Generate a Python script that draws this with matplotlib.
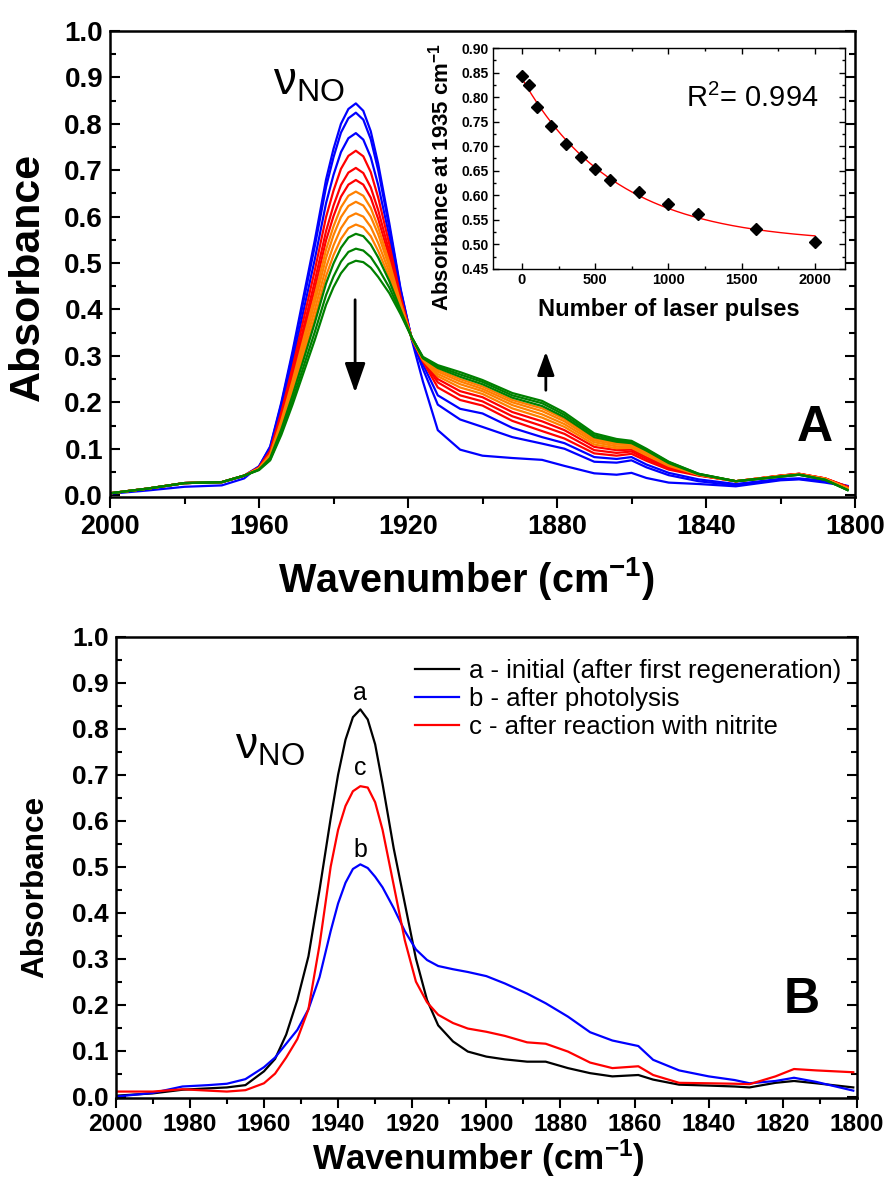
import numpy as np
import matplotlib
matplotlib.use("Agg")
import matplotlib.pyplot as plt
from matplotlib import font_manager
from matplotlib.ticker import MultipleLocator, FormatStrFormatter

plt.rcParams['font.family'] = 'Liberation Sans'
plt.rcParams['mathtext.fontset'] = 'custom'
plt.rcParams['mathtext.rm'] = 'Liberation Sans'
plt.rcParams['mathtext.it'] = 'Liberation Sans:italic'
plt.rcParams['mathtext.bf'] = 'Liberation Sans:bold'

# narrow face for the condensed labels, if it is installed
names = {f.name for f in font_manager.fontManager.ttflist}
if 'Liberation Sans Narrow' in names:
    NARROW, NSCALE = 'Liberation Sans Narrow', 1.0
else:
    NARROW, NSCALE = 'Liberation Sans', 0.84

# ---------------- panel A: spectra during photolysis ----------------
wn_a = [2000, 1990, 1980, 1970, 1964, 1960, 1957, 1954, 1951, 1948, 1945, 1942, 1940, 1938,
        1936, 1934, 1932, 1930, 1928, 1925, 1922, 1919, 1916, 1912, 1906, 1900, 1892, 1884,
        1878, 1870, 1864, 1860, 1856, 1850, 1842, 1832, 1820, 1815, 1808, 1802]

spectra_a = [
    [.003, .010, .018, .021, .036, .062,
     .105, .200, .310, .430, .550, .680, .746, .800, .832, .844, .828, .784, .714, .585, .445, .335,
     .245, .140, .098, .085, .080, .076, .063, .047, .044, .048, .037, .027, .024, .019, .032, .034, .027, .019],
    [.004, .014, .026, .028, .042, .062,
     .103, .196, .303, .420, .537, .664, .728, .781, .812, .824, .809, .767, .700, .576, .442, .336,
     .272, .195, .163, .147, .125, .111, .100, .072, .070, .075, .060, .043, .030, .021, .034, .035, .030, .019],
    [.004, .014, .026, .028, .042, .060,
     .099, .187, .288, .399, .509, .629, .690, .739, .769, .780, .766, .728, .668, .557, .435, .337,
     .282, .215, .186, .176, .145, .125, .112, .082, .078, .082, .066, .048, .034, .024, .035, .036, .031, .020],
    [.004, .014, .026, .028, .042, .060,
     .096, .179, .275, .380, .485, .599, .656, .703, .731, .742, .730, .696, .641, .540, .428, .337,
     .288, .232, .205, .193, .160, .138, .122, .090, .085, .089, .074, .055, .042, .030, .042, .046, .036, .018],
    [.004, .014, .026, .028, .042, .059,
     .093, .171, .263, .362, .462, .569, .624, .668, .695, .705, .694, .663, .614, .524, .422, .338,
     .289, .243, .215, .202, .170, .149, .132, .097, .091, .094, .078, .058, .043, .030, .042, .046, .036, .018],
    [.004, .014, .026, .028, .042, .058,
     .090, .166, .254, .350, .445, .549, .601, .643, .669, .679, .669, .641, .595, .512, .418, .338,
     .290, .250, .224, .211, .179, .159, .140, .104, .097, .098, .082, .060, .043, .030, .042, .046, .036, .018],
    [.004, .014, .026, .028, .042, .058,
     .088, .161, .246, .338, .430, .529, .579, .620, .645, .654, .645, .619, .577, .501, .414, .338,
     .291, .256, .232, .218, .187, .167, .147, .109, .101, .102, .086, .063, .044, .030, .041, .045, .035, .015],
    [.004, .014, .026, .028, .042, .057,
     .086, .156, .238, .327, .416, .511, .560, .599, .623, .632, .624, .600, .562, .491, .411, .339,
     .292, .261, .239, .224, .194, .174, .153, .114, .105, .105, .089, .065, .044, .030, .041, .045, .035, .015],
    [.004, .014, .026, .028, .042, .056,
     .084, .151, .230, .315, .400, .491, .538, .575, .599, .607, .600, .578, .543, .480, .407, .339,
     .293, .266, .245, .229, .200, .181, .159, .118, .109, .108, .091, .066, .045, .030, .041, .045, .035, .015],
    [.004, .014, .026, .028, .042, .056,
     .082, .146, .221, .303, .384, .472, .517, .552, .575, .583, .577, .558, .526, .470, .403, .339,
     .294, .270, .250, .234, .205, .187, .164, .122, .112, .110, .094, .068, .045, .030, .041, .045, .035, .015],
    [.004, .014, .026, .028, .042, .055,
     .080, .142, .215, .293, .372, .456, .499, .533, .555, .563, .558, .540, .512, .461, .399, .340,
     .295, .274, .255, .239, .210, .192, .168, .125, .115, .112, .096, .069, .045, .030, .040, .044, .033, .011],
    [.004, .014, .026, .028, .042, .055,
     .077, .135, .204, .278, .352, .431, .471, .503, .524, .531, .527, .513, .489, .447, .394, .340,
     .296, .277, .260, .244, .215, .198, .173, .129, .118, .115, .098, .071, .046, .030, .040, .044, .033, .011],
    [.004, .014, .026, .028, .042, .054,
     .075, .130, .195, .265, .335, .410, .448, .478, .498, .505, .502, .490, .470, .435, .390, .340,
     .298, .280, .265, .248, .220, .203, .178, .133, .121, .117, .100, .072, .046, .030, .040, .044, .033, .011],
]
colors_a = ['#0000ff'] * 3 + ['#ff0000'] * 3 + ['#ff8000'] * 4 + ['#008000'] * 3

# inset: absorbance at 1935 cm-1 vs number of laser pulses
pulses = [0, 50, 100, 200, 300, 400, 500, 600, 800, 1000, 1200, 1600, 2000]
abs_1935 = [0.844, 0.824, 0.780, 0.742, 0.705, 0.679, 0.654, 0.632, 0.607, 0.583, 0.563, 0.531, 0.505]

# ---------------- panel B ----------------
wn_b = [2000, 1990, 1982, 1975, 1970, 1965, 1960, 1957, 1954, 1951,
        1948, 1945, 1942, 1940, 1938, 1936, 1934, 1932, 1930, 1928,
        1925, 1922, 1919, 1916, 1913, 1909, 1905, 1900, 1895, 1889,
        1884, 1878, 1872, 1866, 1859, 1855, 1848, 1840, 1833, 1829,
        1822, 1817, 1811, 1801]
spec_initial = [.002, .007, .015, .018, .020, .025, .055, .082, .135, .210,
                .305, .450, .605, .700, .776, .825, .842, .820, .766, .680,
                .540, .420, .300, .210, .155, .120, .098, .087, .081, .076,
                .076, .062, .051, .044, .047, .037, .026, .024, .022, .020,
                .030, .034, .029, .020]
spec_photolysis = [.000, .008, .022, .025, .028, .038, .064, .085, .115, .145,
                   .190, .260, .360, .420, .465, .495, .505, .497, .478, .455,
                   .410, .360, .320, .297, .284, .277, .271, .262, .246, .224,
                   .203, .174, .140, .122, .110, .080, .057, .044, .036, .029,
                   .034, .041, .032, .013]
spec_nitrite = [.011, .011, .016, .013, .011, .014, .029, .050, .085, .125,
                .190, .330, .500, .580, .632, .664, .675, .672, .640, .580,
                .460, .340, .250, .205, .178, .160, .148, .141, .132, .118,
                .115, .098, .074, .062, .066, .047, .030, .029, .028, .027,
                .044, .060, .057, .053]
labels_b = ['a - initial (after first regeneration)', 'b - after photolysis',
            'c - after reaction with nitrite']
colors_b = ['black', '#0000ff', '#ff0000']

W, H = 892, 1182
fig = plt.figure(figsize=(W / 100, H / 100), dpi=100)


def fx(px):
    return px / W


def fy(py):
    return 1 - py / H


def style_ticks(ax, xfont, xsize, yfont, ysize):
    for lab in ax.get_xticklabels():
        lab.set_fontfamily(xfont)
        lab.set_fontweight('bold')
        lab.set_fontsize(xsize)
    for lab in ax.get_yticklabels():
        lab.set_fontfamily(yfont)
        lab.set_fontweight('bold')
        lab.set_fontsize(ysize)


# ---- panel A
axA = fig.add_axes([fx(110), fy(497), fx(855 - 110), (497 - 31) / H])
for spec, col in zip(spectra_a, colors_a):
    axA.plot(wn_a, spec, color=col, lw=1.6)
axA.set_xlim(2000, 1800)
axA.set_ylim(-0.004, 1.0)
axA.xaxis.set_major_locator(MultipleLocator(40))
axA.xaxis.set_minor_locator(MultipleLocator(20))
axA.yaxis.set_major_locator(MultipleLocator(0.1))
axA.yaxis.set_minor_locator(MultipleLocator(0.05))
axA.yaxis.set_major_formatter(FormatStrFormatter('%.1f'))
axA.tick_params(axis='x', which='major', direction='out', length=8, width=1.5, pad=4)
axA.tick_params(axis='x', which='minor', direction='out', length=5, width=1.5)
axA.tick_params(axis='y', which='major', direction='in', length=7, width=1.5, right=True, pad=5)
axA.tick_params(axis='y', which='minor', direction='in', length=4, width=1.5, right=True)
for sp in axA.spines.values():
    sp.set_linewidth(1.8)
style_ticks(axA, NARROW, 23 * NSCALE, 'Liberation Sans', 20)

axA.text(1946.5, 0.89, r'$\mathrm{\nu}_{\mathrm{NO}}$', fontsize=33, ha='center', va='center')
axA.annotate('', xy=(1934.2, 0.215), xytext=(1934.2, 0.427),
             arrowprops=dict(arrowstyle='-|>,head_length=1.2,head_width=0.42',
                             mutation_scale=15, lw=2, color='black'))
axA.annotate('', xy=(1883, 0.315), xytext=(1883, 0.22),
             arrowprops=dict(arrowstyle='-|>,head_length=1.1,head_width=0.4',
                             mutation_scale=13, lw=2, color='black'))
axA.text(1810.7, 0.144, 'A', fontsize=36, fontweight='bold', ha='center', va='center')

fig.text(fx(28), fy(277), 'Absorbance', rotation=90, fontsize=31, fontweight='bold',
         ha='center', va='center')
fig.text(fx(466), fy(578), r'Wavenumber (cm$^{\mathbf{-1}}$)', fontsize=34 * NSCALE,
         fontweight='bold', family=NARROW, ha='center', va='center')

# ---- inset
axI = fig.add_axes([fx(492.7), fy(269), fx(845 - 492.7), (269 - 48) / H])
pulses_arr = np.array(pulses, dtype=float)
abs_arr = np.array(abs_1935)
# single exponential fit, grid search on the decay constant
best = None
for tau in np.linspace(100, 4000, 800):
    M = np.column_stack([np.ones_like(pulses_arr), np.exp(-pulses_arr / tau)])
    coef = np.linalg.lstsq(M, abs_arr, rcond=None)[0]
    err = np.sum((M @ coef - abs_arr) ** 2)
    if best is None or err < best[0]:
        best = (err, tau, coef)
_, tau, coef = best
xfit = np.linspace(0, 2000, 300)
axI.plot(xfit, coef[0] + coef[1] * np.exp(-xfit / tau), color='#ff0000', lw=1)
axI.plot(pulses, abs_1935, 'D', color='black', markersize=6)
axI.set_xlim(-200, 2205)
axI.set_ylim(0.45, 0.90)
axI.xaxis.set_major_locator(MultipleLocator(500))
axI.xaxis.set_minor_locator(MultipleLocator(250))
axI.yaxis.set_major_locator(MultipleLocator(0.05))
axI.yaxis.set_minor_locator(MultipleLocator(0.025))
axI.yaxis.set_major_formatter(FormatStrFormatter('%.2f'))
axI.tick_params(which='major', direction='in', length=4, width=1, top=True, right=True, pad=3)
axI.tick_params(which='minor', direction='in', length=2, width=1, top=True, right=True)
for sp in axI.spines.values():
    sp.set_linewidth(1)
style_ticks(axI, 'Liberation Sans', 10.5, 'Liberation Sans', 10)
axI.text(0.55, 0.733, r'R$^{\mathrm{2}}$= 0.994', transform=axI.transAxes, fontsize=21,
         ha='left', va='baseline')
fig.text(fx(441), fy(177), r'Absorbance at 1935 cm$^{\mathbf{-1}}$', rotation=90, fontsize=16,
         fontweight='bold', ha='center', va='center')
fig.text(fx(669), fy(309), 'Number of laser pulses', fontsize=17, fontweight='bold',
         ha='center', va='center')

# ---- panel B
axB = fig.add_axes([fx(115.7), fy(1098), fx(857 - 115.7), (1098 - 636.7) / H])
for spec, col, lab in zip([spec_initial, spec_photolysis, spec_nitrite], colors_b, labels_b):
    axB.plot(wn_b, spec, color=col, lw=1.6, label=lab)
axB.set_xlim(2000, 1800)
axB.set_ylim(-0.003, 1.0)
axB.xaxis.set_major_locator(MultipleLocator(20))
axB.xaxis.set_minor_locator(MultipleLocator(10))
axB.yaxis.set_major_locator(MultipleLocator(0.1))
axB.yaxis.set_minor_locator(MultipleLocator(0.05))
axB.yaxis.set_major_formatter(FormatStrFormatter('%.1f'))
axB.tick_params(axis='x', which='major', direction='out', length=7, width=1.5, pad=4)
axB.tick_params(axis='x', which='minor', direction='out', length=4, width=1.5)
axB.tick_params(axis='y', which='major', direction='in', length=7, width=1.5, right=True, pad=5)
axB.tick_params(axis='y', which='minor', direction='in', length=4, width=1.5, right=True)
for sp in axB.spines.values():
    sp.set_linewidth(1.8)
style_ticks(axB, NARROW, 21 * NSCALE, 'Liberation Sans', 19)

axB.legend(loc='upper right', bbox_to_anchor=(1.0, 0.985), frameon=False, fontsize=18.5,
           handlelength=1.7, handletextpad=0.4, labelspacing=0.15, borderpad=0.1)
axB.text(1934, 0.877, 'a', fontsize=18, ha='center', va='center')
axB.text(1934, 0.714, 'c', fontsize=18, ha='center', va='center')
axB.text(1934, 0.536, 'b', fontsize=18, ha='center', va='center')
axB.text(1958.4, 0.76, r'$\mathrm{\nu}_{\mathrm{NO}}$', fontsize=32, ha='center', va='center')
axB.text(1814.8, 0.21, 'B', fontsize=36, fontweight='bold', ha='center', va='center')

fig.text(fx(35), fy(887), 'Absorbance', rotation=90, fontsize=27 * NSCALE, fontweight='bold',
         family=NARROW, ha='center', va='center')
fig.text(fx(478), fy(1158), r'Wavenumber (cm$^{\mathbf{-1}}$)', fontsize=30 * NSCALE,
         fontweight='bold', family=NARROW, ha='center', va='center')

fig.savefig('out.png', dpi=100)
